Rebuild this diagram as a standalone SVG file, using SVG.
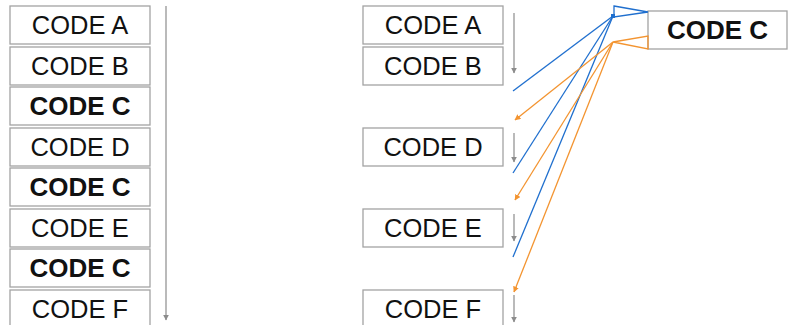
<svg xmlns="http://www.w3.org/2000/svg" width="798" height="325" viewBox="0 0 798 325">
<style>
.box{fill:#fff;stroke:#a3a3a3;stroke-width:1.3}
.t{font-family:"Liberation Sans",Arial,sans-serif;font-size:25.5px;fill:#111;text-anchor:middle}
.b{font-weight:bold;font-size:26px}
.flow{stroke:#8c8c8c;stroke-width:1.2;fill:none;marker-end:url(#ga)}
.blue{stroke:#1f6fce;stroke-width:1.3;fill:none}
.orange{stroke:#f39430;stroke-width:1.3;fill:none;marker-end:url(#oa)}
</style>
<defs>
<marker id="ga" viewBox="0 0 10 10" refX="9" refY="5" markerWidth="6" markerHeight="6" markerUnits="userSpaceOnUse" orient="auto"><path d="M0,0L10,5L0,10z" fill="#8c8c8c"/></marker>
<marker id="oa" viewBox="0 0 10 10" refX="9" refY="5" markerWidth="6" markerHeight="6" markerUnits="userSpaceOnUse" orient="auto"><path d="M0,0L10,5L0,10z" fill="#f39430"/></marker>
</defs>
<rect width="798" height="325" fill="#fff"/>
<g id="left-a"><rect class="box" x="10" y="6" width="140" height="38"/><text class="t" x="80" y="34">CODE A</text></g>
<g id="left-b"><rect class="box" x="10" y="47" width="140" height="38"/><text class="t" x="80" y="75">CODE B</text></g>
<g id="left-c1"><rect class="box" x="10" y="87" width="140" height="38"/><text class="t b" x="80" y="115">CODE C</text></g>
<g id="left-d"><rect class="box" x="10" y="128" width="140" height="38"/><text class="t" x="80" y="156">CODE D</text></g>
<g id="left-c2"><rect class="box" x="10" y="168" width="140" height="38"/><text class="t b" x="80" y="196">CODE C</text></g>
<g id="left-e"><rect class="box" x="10" y="209" width="140" height="38"/><text class="t" x="80" y="237">CODE E</text></g>
<g id="left-c3"><rect class="box" x="10" y="249" width="140" height="38"/><text class="t b" x="80" y="277">CODE C</text></g>
<g id="left-f"><rect class="box" x="10" y="290" width="140" height="38"/><text class="t" x="80" y="318">CODE F</text></g>
<g id="mid-a"><rect class="box" x="363" y="6" width="140" height="38"/><text class="t" x="433" y="34">CODE A</text></g>
<g id="mid-b"><rect class="box" x="363" y="47" width="140" height="38"/><text class="t" x="433" y="75">CODE B</text></g>
<g id="mid-d"><rect class="box" x="363" y="128" width="140" height="38"/><text class="t" x="433" y="156">CODE D</text></g>
<g id="mid-e"><rect class="box" x="363" y="209" width="140" height="38"/><text class="t" x="433" y="237">CODE E</text></g>
<g id="mid-f"><rect class="box" x="363" y="290" width="140" height="38"/><text class="t" x="433" y="318">CODE F</text></g>
<g id="func-c"><rect class="box" x="648" y="11" width="139" height="38"/><text class="t b" x="717.5" y="39">CODE C</text></g>
<g id="connectors">
<line class="flow" x1="166" y1="6" x2="166" y2="320"/>
<line class="flow" x1="514" y1="13" x2="514" y2="73"/>
<line class="flow" x1="514" y1="133" x2="514" y2="162"/>
<line class="flow" x1="514" y1="214" x2="514" y2="241"/>
<line class="flow" x1="514" y1="295" x2="514" y2="322"/>
<path class="blue" d="M614,6L648,12L614,17Z"/>
<rect x="611" y="14" width="4" height="4" fill="#1f6fce"/>
<line class="blue" x1="613" y1="16" x2="513" y2="91"/>
<line class="blue" x1="613" y1="16" x2="513" y2="173"/>
<line class="blue" x1="613" y1="16" x2="513" y2="257"/>
<path d="M613,42L648,36L648,49Z" fill="none" stroke="#f39430" stroke-width="1.3"/>
<line class="orange" x1="613" y1="42" x2="515" y2="120"/>
<line class="orange" x1="613" y1="42" x2="515" y2="200"/>
<line class="orange" x1="613" y1="42" x2="514" y2="292"/>
</g>
</svg>
